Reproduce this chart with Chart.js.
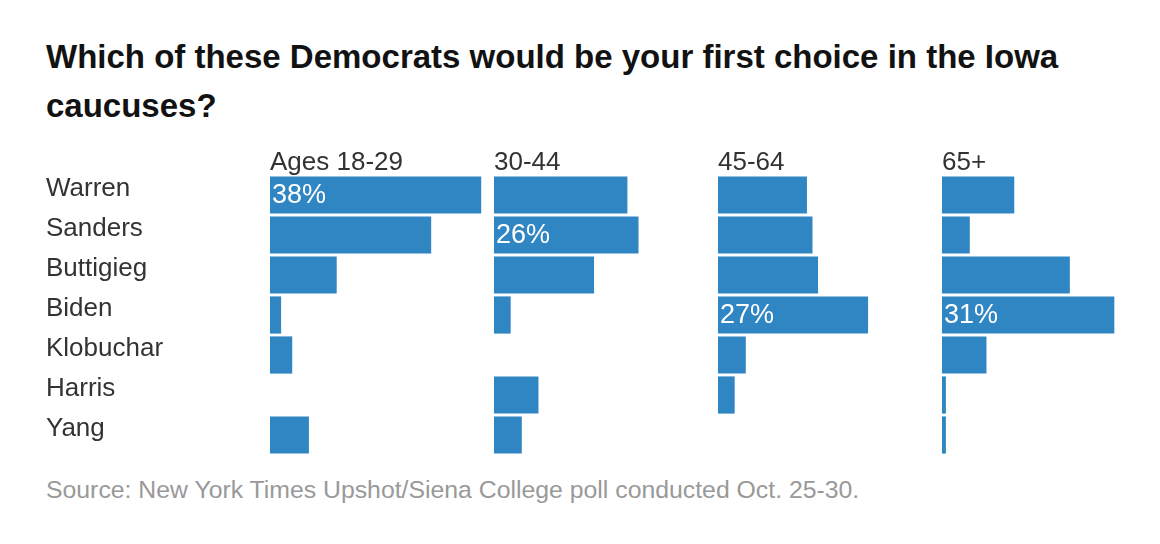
<!DOCTYPE html>
<html>
<head>
<meta charset="utf-8">
<script src="https://cdn.jsdelivr.net/npm/chart.js@4"></script>
<style>
  html, body { margin: 0; padding: 0; background: #fff; }
  body { width: 1160px; height: 544px; position: relative; overflow: hidden; font-family: "Liberation Sans", Arial, sans-serif; }
  #title { position: absolute; left: 46px; top: 32px; font-size: 33px; line-height: 49px; font-weight: bold; color: #121212; white-space: nowrap; letter-spacing: 0; }
  #source { position: absolute; left: 46px; top: 478px; font-size: 24.8px; line-height: 24px; color: #999; white-space: nowrap; }
  .panel { position: absolute; top: 135px; height: 320px; }
</style>
</head>
<body>
<div id="title">Which of these Democrats would be your first choice in the Iowa<br>caucuses?</div>

<div class="panel" style="left:0;width:494px"><canvas id="p0" width="494" height="320"></canvas></div>
<div class="panel" style="left:494px;width:224px"><canvas id="p1" width="224" height="320"></canvas></div>
<div class="panel" style="left:718px;width:224px"><canvas id="p2" width="224" height="320"></canvas></div>
<div class="panel" style="left:942px;width:224px"><canvas id="p3" width="224" height="320"></canvas></div>

<div id="source">Source: New York Times Upshot/Siena College poll conducted Oct. 25-30.</div>

<script>
// poll data, percent by age group
var candidates = ['Warren', 'Sanders', 'Buttigieg', 'Biden', 'Klobuchar', 'Harris', 'Yang'];
var ageGroups = ['Ages 18-29', '30-44', '45-64', '65+'];

var ages18to29 = [38, 29, 12, 2, 4, 0, 7];
var ages30to44 = [24, 26, 18, 3, 0, 8, 5];
var ages45to64 = [16, 17, 18, 27, 5, 3, 0];
var ages65plus = [13, 5, 23, 31, 8, 0.7, 0.7];

var series = [ages18to29, ages30to44, ages45to64, ages65plus];

var barColor = '#3085c3';
var textFont = { family: '"Liberation Sans", Arial, sans-serif', size: 26 };

// header above each panel + white % label on the largest bar
var panelText = {
  id: 'panelText',
  afterDatasetsDraw: function(chart, args, opts) {
    var ctx = chart.ctx;
    var area = chart.chartArea;
    ctx.save();
    ctx.font = '26px "Liberation Sans", Arial, sans-serif';
    ctx.fillStyle = '#333';
    ctx.textAlign = 'left';
    ctx.textBaseline = 'alphabetic';
    ctx.fillText(opts.header, area.left, area.top - 5);

    var values = chart.data.datasets[0].data;
    var top = values.indexOf(Math.max.apply(null, values));
    var bar = chart.getDatasetMeta(0).data[top];
    ctx.font = '27px "Liberation Sans", Arial, sans-serif';
    ctx.fillStyle = '#fff';
    ctx.textBaseline = 'middle';
    ctx.fillText(values[top] + '%', bar.base + 2, bar.y + 1);
    ctx.restore();
  }
};

series.forEach(function(values, i) {
  var first = i === 0;
  var yAxis = {
    display: first,
    grid: { display: false },
    border: { display: false },
    ticks: {
      color: '#333',
      font: textFont,
      crossAlign: 'far',
      labelOffset: -6,
      padding: 0
    }
  };
  if (first) {
    // fixed label column, and no extra room for the first/last label
    yAxis.afterFit = function(scale) {
      scale.width = 224;
      scale.paddingTop = 0;
      scale.paddingBottom = 0;
    };
  }

  new Chart(document.getElementById('p' + i), {
    type: 'bar',
    data: {
      labels: candidates,
      datasets: [{
        data: values,
        backgroundColor: barColor,
        borderWidth: 0,
        barPercentage: 1,
        categoryPercentage: 0.93
      }]
    },
    options: {
      indexAxis: 'y',
      responsive: false,
      animation: false,
      events: [],
      layout: {
        autoPadding: false,
        padding: { top: 40, bottom: 0, left: first ? 46 : 0, right: 0 }
      },
      scales: {
        x: { display: false, min: 0, max: 40.3 },
        y: yAxis
      },
      plugins: {
        legend: { display: false },
        tooltip: { enabled: false },
        panelText: { header: ageGroups[i] }
      }
    },
    plugins: [panelText]
  });
});
</script>
</body>
</html>
